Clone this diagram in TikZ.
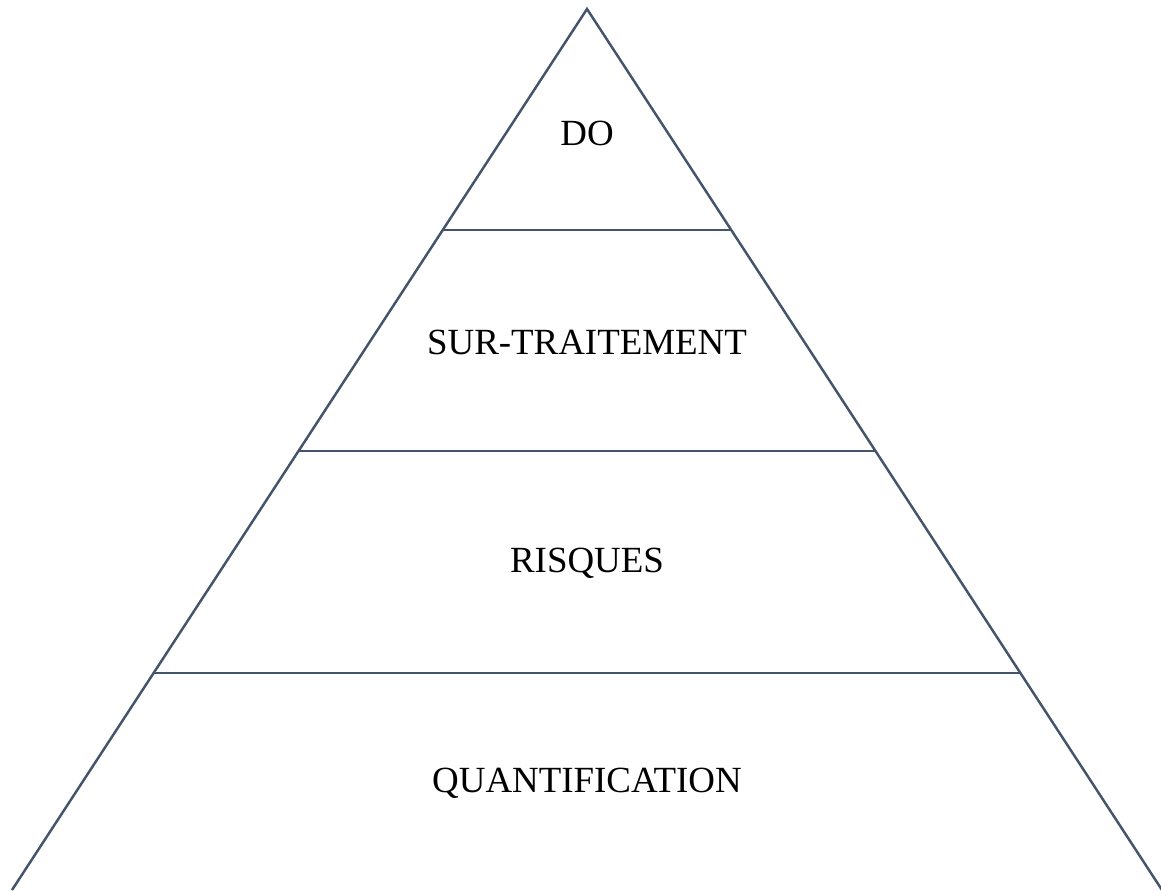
\documentclass[tikz,border=0pt]{standalone}
\usepackage{fontspec}
\setmainfont{Liberation Serif}
\usetikzlibrary{calc,positioning}

\definecolor{edgegray}{HTML}{44546A}

\tikzset{
    side/.style={draw=edgegray, line width=1.4pt},
    level/.style={font=\fontsize{21}{24}\selectfont, text=black, inner sep=0pt}
}

\begin{document}
\begin{tikzpicture}
    \useasboundingbox (0,0) rectangle (23.22,17.8);
    % corners of the pyramid
    \coordinate (apex) at (11.74,17.62);
    \coordinate (bl) at (0.24,0);
    \coordinate (br) at (23.24,0);
    \draw[side] (bl) -- (apex) -- (br);
    % horizontal cuts
    \foreach \t/\n in {0.2509/a, 0.5017/b, 0.7537/c} {
        \coordinate (l\n) at ($(apex)!\t!(bl)$);
        \coordinate (r\n) at ($(apex)!\t!(br)$);
        \draw[side] (l\n) -- (r\n);
    }
    % labels
    \node[level] (do) at (11.74,15.14) {DO};
    \node[level] (sur) at (11.74,10.96) {SUR-TRAITEMENT};
    \node[level] (risques) at (11.74,6.54) {RISQUES};
    \node[level] (quant) at (11.74,2.14) {QUANTIFICATION};
\end{tikzpicture}
\end{document}
